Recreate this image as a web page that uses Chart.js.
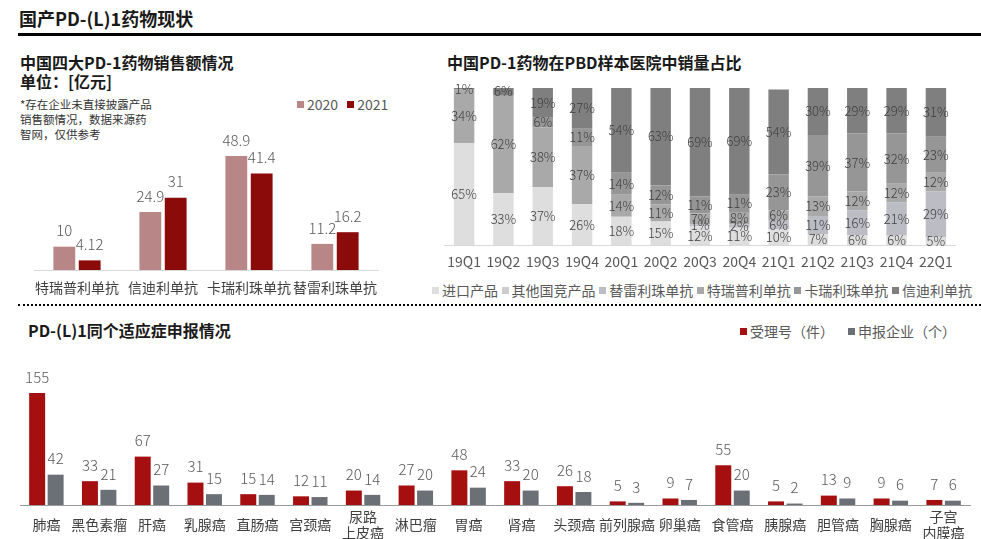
<!DOCTYPE html>
<html>
<head>
<meta charset="utf-8">
<script src="https://cdn.jsdelivr.net/npm/chart.js@4.4.1/dist/chart.umd.min.js"></script>
<style>
body { margin: 0; width: 981px; height: 539px; background: #fff; position: relative; overflow: hidden;
  font-family: "Noto Sans CJK SC", sans-serif; color: #1a1a1a; }
.t { position: absolute; white-space: nowrap; line-height: 1; }
.h { font-weight: 700; }
canvas { position: absolute; }
.lg { position: absolute; white-space: nowrap; font-size: 14px; color: #595959; line-height: 1; }
.lg i { display: inline-block; width: 7px; height: 7px; margin-right: 3px; vertical-align: 2px; }
</style>
</head>
<body>
<div class="t h" style="left:19px;top:9px;font-size:18px;">国产PD-(L)1药物现状</div>
<div style="position:absolute;left:18px;top:33px;width:963px;height:3px;background:#000;"></div>

<div class="t h" style="left:20px;top:54px;font-size:16px;">中国四大PD-1药物销售额情况</div>
<div class="t h" style="left:20px;top:73px;font-size:16px;">单位：[亿元]</div>
<div class="t" style="left:20px;top:97px;font-size:11.5px;color:#333;line-height:15px;">*存在企业未直接披露产品<br>销售额情况，数据来源药<br>智网，仅供参考</div>
<div class="lg" style="left:297px;top:97px;"><i style="background:#b88686"></i>2020 <i style="background:#8b0a0a;margin-left:6px"></i>2021</div>

<div class="t h" style="left:447px;top:54px;font-size:16px;">中国PD-1药物在PBD样本医院中销量占比</div>
<div class="lg" id="lg2" style="left:432px;top:283px;width:540px;display:flex;justify-content:space-between;"></div>

<div style="position:absolute;left:18px;top:304px;width:963px;height:0;border-top:2px dotted #000;"></div>

<div class="t h" style="left:28px;top:322px;font-size:16px;">PD-(L)1同个适应症申报情况</div>
<div class="lg" style="left:740px;top:324px;"><i style="background:#a50f0f"></i>受理号（件）<i style="background:#6b7077;margin-left:14px"></i>申报企业（个）</div>

<canvas id="c1" width="400" height="200" style="left:0;top:100px;"></canvas>
<canvas id="c2" width="540" height="195" style="left:430px;top:80px;"></canvas>
<canvas id="c3" width="981" height="194" style="left:0;top:345px;"></canvas>

<script>
// sales of the four domestic PD-1 drugs, 100 million yuan
const salesDrugs = ['特瑞普利单抗', '信迪利单抗', '卡瑞利珠单抗', '替雷利珠单抗'];
const sales2020 = [10, 24.9, 48.9, 11.2];
const sales2021 = [4.12, 31, 41.4, 16.2];

// PBD sample hospital volume share, %
const quarters = ['19Q1', '19Q2', '19Q3', '19Q4', '20Q1', '20Q2', '20Q3', '20Q4', '21Q1', '21Q2', '21Q3', '21Q4', '22Q1'];
const shareNames = ['进口产品', '其他国竞产品', '替雷利珠单抗', '特瑞普利单抗', '卡瑞利珠单抗', '信迪利单抗'];
const shareImported = [65, 33, 37, 26, 18, 15, 12, 11, 10, 7, 6, 6, 5];
const shareOtherDomestic = [0, 0, 0, 0, 0, 0, 0, 0, 0, 0, 0, 0, 0];
const shareTislelizumab = [0, 0, 0, 0, 0, 0, 1, 2, 6, 11, 16, 21, 29];
const shareToripalimab = [34, 62, 38, 37, 14, 11, 7, 8, 6, 13, 12, 12, 12];
const shareCamrelizumab = [0, 0, 6, 11, 14, 12, 11, 11, 23, 39, 37, 32, 23];
const shareSintilimab = [1, 6, 19, 27, 54, 63, 69, 69, 54, 30, 29, 29, 31];

// applications per indication
const indications = ['肺癌', '黑色素瘤', '肝癌', '乳腺癌', '直肠癌', '宫颈癌', ['尿路', '上皮癌'], '淋巴瘤', '胃癌',
  '肾癌', '头颈癌', '前列腺癌', '卵巢癌', '食管癌', '胰腺癌', '胆管癌', '胸腺癌', ['子宫', '内膜癌']];
const acceptances = [155, 33, 67, 31, 15, 12, 20, 27, 48, 33, 26, 5, 9, 55, 5, 13, 9, 7];
const applicants = [42, 21, 27, 15, 14, 11, 14, 20, 24, 20, 18, 3, 7, 20, 2, 9, 6, 6];

const shareColors = ['#dedede', '#cdcdcd', '#bcbcc4', '#a9a9a9', '#969696', '#7f7f7f'];

Chart.defaults.font.family = '"Noto Sans CJK SC", sans-serif';
Chart.defaults.animation = false;
Chart.defaults.responsive = false;
Chart.defaults.plugins.legend.display = false;
Chart.defaults.plugins.tooltip.enabled = false;

// value labels above bars, or centred in stacked segments
const valueLabels = {
	id: 'valueLabels',
	afterDatasetsDraw(chart, args, opts) {
		const ctx = chart.ctx;
		ctx.save();
		ctx.font = opts.font;
		ctx.fillStyle = opts.color;
		ctx.textAlign = 'center';
		ctx.textBaseline = 'middle';
		chart.data.datasets.forEach((ds, i) => {
			chart.getDatasetMeta(i).data.forEach((bar, j) => {
				const v = ds.data[j];
				if (!v) return;
				if (opts.inside) ctx.fillText(v + '%', bar.x, (bar.y + bar.base) / 2);
				else ctx.fillText(String(v), bar.x, bar.y - opts.offset);
			});
		});
		ctx.restore();
	}
};

// x axis with a fixed height so the plot area lands where it should
const xAxis = (color, size, pad, lineColor, height) => ({
	grid: { display: false, drawTicks: false, tickLength: 0 },
	border: { display: true, color: lineColor, width: 1 },
	ticks: { color: color, font: { size: size, lineHeight: 1.15 }, padding: pad, maxRotation: 0, autoSkip: false, crossAlign: 'center' },
	afterFit: s => { s.height = height; }
});

new Chart(document.getElementById('c1'), {
	type: 'bar',
	data: {
		labels: salesDrugs,
		datasets: [
			{ label: '2020', data: sales2020, backgroundColor: '#b88686', barPercentage: 0.86, categoryPercentage: 0.59 },
			{ label: '2021', data: sales2021, backgroundColor: '#8b0a0a', barPercentage: 0.86, categoryPercentage: 0.59 }
		]
	},
	options: {
		layout: { padding: { left: 34, right: 22, top: 30, bottom: 0 } },
		scales: {
			x: xAxis('#404040', 14, 18, '#d9d9d9', 30),
			y: { display: false, min: 0, max: 60 }
		},
		plugins: { valueLabels: { font: '300 15px "Noto Sans CJK SC"', color: '#595959', offset: 16 } }
	},
	plugins: [valueLabels]
});

const shareSeries = [shareImported, shareOtherDomestic, shareTislelizumab, shareToripalimab, shareCamrelizumab, shareSintilimab];
new Chart(document.getElementById('c2'), {
	type: 'bar',
	data: {
		labels: quarters,
		datasets: shareSeries.map((d, i) => ({
			label: shareNames[i], data: d, backgroundColor: shareColors[i],
			barPercentage: 1, categoryPercentage: 0.52
		}))
	},
	options: {
		layout: { padding: { left: 7, right: 14, top: 8, bottom: 0 } },
		scales: {
			x: Object.assign(xAxis('#595959', 14, 17, '#d9d9d9', 30), { stacked: true }),
			y: { display: false, stacked: true, min: 0, max: 100 }
		},
		plugins: { valueLabels: { font: '300 13px "Noto Sans CJK SC"', color: '#404040', inside: true } }
	},
	plugins: [valueLabels]
});

document.getElementById('lg2').innerHTML = shareNames
	.map((n, i) => '<span><i style="background:' + shareColors[i] + '"></i>' + n + '</span>').join('');

new Chart(document.getElementById('c3'), {
	type: 'bar',
	data: {
		labels: indications,
		datasets: [
			{ label: '受理号（件）', data: acceptances, backgroundColor: '#a50f0f', barPercentage: 0.865, categoryPercentage: 0.7 },
			{ label: '申报企业（个）', data: applicants, backgroundColor: '#6b7077', barPercentage: 0.865, categoryPercentage: 0.7 }
		]
	},
	options: {
		layout: { padding: { left: 20, right: 11, top: 30, bottom: 0 } },
		scales: {
			x: xAxis('#404040', 14, 12, '#999999', 34),
			y: { display: false, min: 0, max: 180 }
		},
		plugins: { valueLabels: { font: '300 15px "Noto Sans CJK SC"', color: '#595959', offset: 16 } }
	},
	plugins: [valueLabels]
});
</script>
</body>
</html>
